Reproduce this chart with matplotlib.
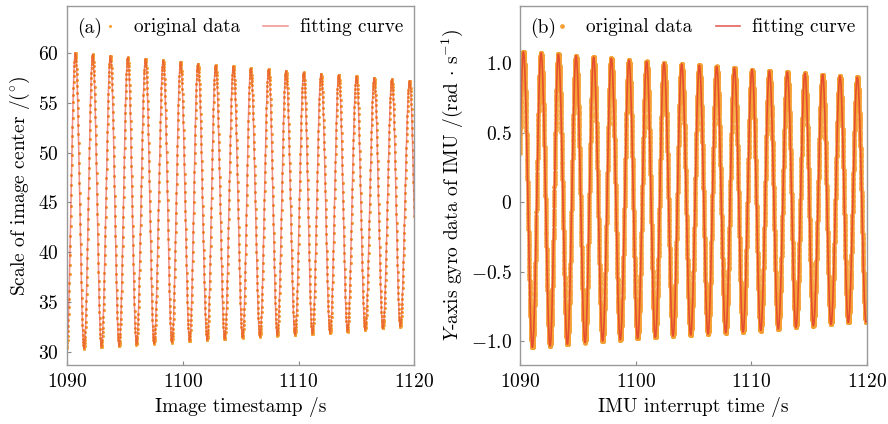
import numpy as np
import matplotlib
matplotlib.use("Agg")
import matplotlib.pyplot as plt

plt.rcParams['font.family'] = ['cmr10', 'DejaVu Serif']
plt.rcParams['mathtext.fontset'] = 'cm'
plt.rcParams['axes.formatter.use_mathtext'] = True
plt.rcParams['axes.unicode_minus'] = True

# ---------------- data ----------------
# Panel (a): image-center scale, extremes of each swing
peak_times_a = [1090.72, 1092.22, 1093.75, 1095.25, 1096.78, 1098.31, 1099.81, 1101.31,
                1102.84, 1104.37, 1105.87, 1107.42, 1108.92, 1110.45, 1111.95, 1113.48,
                1115.01, 1116.54, 1118.07, 1119.60]
peak_vals_a = [60.0, 59.85, 59.7, 59.55, 59.4, 59.25, 59.1, 58.9, 58.75, 58.65,
               58.45, 58.35, 58.2, 58.05, 57.9, 57.8, 57.65, 57.5, 57.35, 57.2]
trough_times_a = [1089.96, 1091.47, 1092.97, 1094.50, 1096.00, 1097.52, 1099.06, 1100.59,
                  1102.11, 1103.62, 1105.17, 1106.67, 1108.17, 1109.70, 1111.20, 1112.73,
                  1114.23, 1115.76, 1117.29, 1118.79, 1120.35]
trough_vals_a = [30.2, 30.35, 30.5, 30.6, 30.75, 30.85, 30.95, 31.1, 31.2, 31.3, 31.45,
                 31.55, 31.65, 31.72, 31.82, 31.9, 32.05, 32.22, 32.38, 32.55, 32.65]
rate_a = 60.0  # frames per second

# Panel (b): IMU Y-axis gyro, extremes of each swing
peak_times_b = [1090.29, 1091.82, 1093.32, 1094.85, 1096.37, 1097.90, 1099.43, 1100.96,
                1102.46, 1103.99, 1105.52, 1107.02, 1108.55, 1110.08, 1111.58, 1113.13,
                1114.66, 1116.19, 1117.69, 1119.19]
peak_vals_b = [1.08, 1.073, 1.064, 1.052, 1.042, 1.033, 1.021, 1.011, 1.001, 0.992,
               0.984, 0.975, 0.965, 0.953, 0.943, 0.936, 0.927, 0.917, 0.907, 0.898]
trough_times_b = [1089.56, 1091.07, 1092.60, 1094.10, 1095.63, 1097.15, 1098.68, 1100.18,
                  1101.71, 1103.24, 1104.77, 1106.27, 1107.80, 1109.30, 1110.83, 1112.35,
                  1113.88, 1115.38, 1116.91, 1118.41, 1119.95]
trough_vals_b = [-1.05, -1.043, -1.033, -1.02, -1.008, -0.998, -0.988, -0.978, -0.971,
                 -0.962, -0.954, -0.947, -0.938, -0.933, -0.923, -0.911, -0.899, -0.888,
                 -0.878, -0.864, -0.86]
rate_b = 200.0  # samples per second

x_range = (1090, 1120)
xticks = [1090, 1100, 1110, 1120]
yticks_a = [30, 35, 40, 45, 50, 55, 60]
yticks_b = [-1.0, -0.5, 0.0, 0.5, 1.0]
yticklabels_b = ['$-1.0$', '$-0.5$', '$0$', '$0.5$', '$1.0$']


def swing_curve(t, ext_t, ext_v):
    """Half-cosine swing between consecutive extremes."""
    order = np.argsort(ext_t)
    et = np.asarray(ext_t)[order]
    ev = np.asarray(ext_v)[order]
    idx = np.clip(np.searchsorted(et, t) - 1, 0, len(et) - 2)
    t0, t1 = et[idx], et[idx + 1]
    v0, v1 = ev[idx], ev[idx + 1]
    f = np.clip((t - t0) / (t1 - t0), 0, 1)
    return v0 + (v1 - v0) * (1 - np.cos(np.pi * f)) / 2


ta = np.arange(x_range[0], x_range[1] + 1e-9, 1 / rate_a)
ya = swing_curve(ta, peak_times_a + trough_times_a, peak_vals_a + trough_vals_a)
tb = np.arange(x_range[0], x_range[1] + 1e-9, 1 / rate_b)
yb = swing_curve(tb, peak_times_b + trough_times_b, peak_vals_b + trough_vals_b)

dot_color = '#F5A033'
line_color = '#E23A30'

fig = plt.figure(figsize=(8.88, 4.24), dpi=100)
axa = fig.add_axes([0.0755, 0.139, 0.391, 0.847])
axb = fig.add_axes([0.5856, 0.139, 0.3904, 0.847])

axa.plot(ta, ya, linestyle='none', marker='o', markersize=2.2, color=dot_color,
         markeredgewidth=0, label='original data')
axa.plot(ta, ya, color=line_color, lw=1.1, alpha=0.55, label='fitting curve')

axb.plot(tb, yb, linestyle='none', marker='o', markersize=3.4, color=dot_color,
         markeredgewidth=0, label='original data')
axb.plot(tb, yb, color=line_color, lw=1.2, alpha=0.8, label='fitting curve')

axa.set_ylim(28.7, 64.7)
axb.set_ylim(-1.17, 1.41)
axa.set_yticks(yticks_a)
axb.set_yticks(yticks_b)
axb.set_yticklabels(yticklabels_b)

axa.set_xlabel('Image timestamp /s', fontsize=14, labelpad=4)
axa.set_ylabel(r'Scale of image center /($^{\circ}$)', fontsize=14, labelpad=4)
axb.set_xlabel('IMU interrupt time /s', fontsize=14, labelpad=4)
axb.set_ylabel(r'$Y$-axis gyro data of IMU /(rad $\cdot$ s$^{-1}$)', fontsize=14, labelpad=4)

for ax, tag in ((axa, '(a)'), (axb, '(b)')):
    ax.set_xlim(*x_range)
    ax.set_xticks(xticks)
    ax.tick_params(direction='in', length=3, width=0.8, labelsize=14, color='#888888',
                   pad=6, top=False, right=False)
    for sp in ax.spines.values():
        sp.set_color('#999999')
        sp.set_linewidth(1.0)
    ax.text(0.03, 0.94, tag, transform=ax.transAxes, fontsize=14, va='center', ha='left')
    leg = ax.legend(loc='center right', bbox_to_anchor=(1.0, 0.94), ncol=2, frameon=False,
                    fontsize=13.8, handlelength=1.3, handletextpad=0.6, columnspacing=1.2,
                    borderaxespad=0.2, markerscale=1.0)

fig.savefig('out.png', dpi=100)
